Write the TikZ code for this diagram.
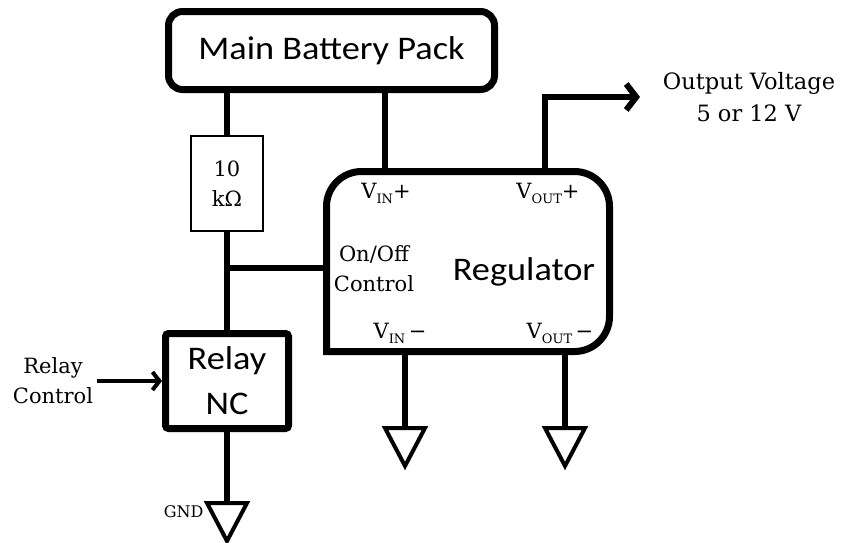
\documentclass[tikz,border=0pt]{standalone}
\usepackage{fontspec}
\setmainfont{DejaVu Serif}
\newfontfamily\carlito[FakeStretch=1.1]{Carlito}
\usetikzlibrary{positioning,arrows.meta}

\newcommand\bigsans{\carlito\fontsize{33}{45}\selectfont}
\newcommand\smallserif{\fontsize{21}{30}\selectfont}
\newcommand\outserif{\fontsize{22.5}{32}\selectfont}
\newcommand\gndfont{\fontsize{16}{16}\selectfont}
\newcommand\lowsub[1]{\raisebox{-5pt}{\fontsize{13}{13}\selectfont #1}}

\tikzset{
  wire/.style={line width=6pt},
  blockbox/.style={draw, line width=7pt, fill=white, font=\bigsans, align=center},
  gnd/.pic={\draw[line width=4pt, line join=miter] (-20,0) -- (20,0) -- (0,38) -- cycle;}
}

\begin{document}
\begin{tikzpicture}[x=1pt,y=-1pt]
\fill[white] (0,0) rectangle (849,542);
\useasboundingbox (0,0) rectangle (849,542);

% blocks
\node[blockbox, rounded corners=14pt, minimum width=326pt, minimum height=78pt] (bat) at (331.5,50.5) {Main Battery Pack};
\node[draw, line width=2.5pt, minimum width=72pt, minimum height=95pt, align=center, font=\smallserif] (res) at (227,183.5) {10\\kΩ};
\node[blockbox, rounded corners=3pt, minimum width=123pt, minimum height=95pt] (relay) at (227,381) {Relay\\NC};
\node[minimum width=283pt, minimum height=180pt, outer sep=0pt] (reg) at (468,261.5) {};
\draw[line width=7pt] (reg.south west) [rounded corners=35pt] -- (reg.north west) -- (reg.north east) -- (reg.south east) [sharp corners] -- cycle;

% regulator labels
\node[font=\bigsans] (reglabel) at (524,272) {Regulator};
\node[font=\smallserif, anchor=base] (vinp) at (386,198) {V\lowsub{IN}+};
\node[font=\smallserif, anchor=base] (voutp) at (548,198) {V\lowsub{OUT}+};
\node[font=\smallserif, anchor=base] (vinm) at (400,338) {V\lowsub{IN}\,−};
\node[font=\smallserif, anchor=base] (voutm) at (560,338) {V\lowsub{OUT}\,−};
\node[font=\smallserif, align=center] (onoff) at (374,269) {On/Off\\Control};

% outside labels
\node[font=\outserif, align=center] (outlabel) at (749,97) {Output Voltage\\5 or 12 V};
\node[font=\smallserif, align=center] (rctl) at (53,381) {Relay\\Control};
\node[font=\gndfont, anchor=east] (gndlabel) at (207,512) {GND};

% wires
\coordinate (vin) at (385,0);
\coordinate (junc) at (227,268);
\coordinate (outp) at (545,97);
\coordinate (outend) at (640,97);
\coordinate (g1) at (405,428);
\coordinate (g2) at (565,428);
\coordinate (g3) at (227,503);
\draw[wire] (bat.south -| res.north) -- (res.north);
\draw[wire] (res.south) -- (relay.north);
\draw[wire] (junc) -- (junc -| reg.west);
\draw[wire] (bat.south -| vin) -- (reg.north -| vin);
\draw[wire, -{Straight Barb[length=10pt,width=26pt]}] (reg.north -| outp) -- (outp) -- (outend);
\draw[line width=4pt, -{Straight Barb[length=7pt,width=18pt]}] (rctl.east) -- (relay.west);
\draw[wire] (reg.south -| g1) -- (g1);
\draw[wire] (reg.south -| g2) -- (g2);
\draw[wire] (relay.south) -- (g3);
\pic at (g1) {gnd};
\pic at (g2) {gnd};
\pic at (g3) {gnd};
\end{tikzpicture}
\end{document}
